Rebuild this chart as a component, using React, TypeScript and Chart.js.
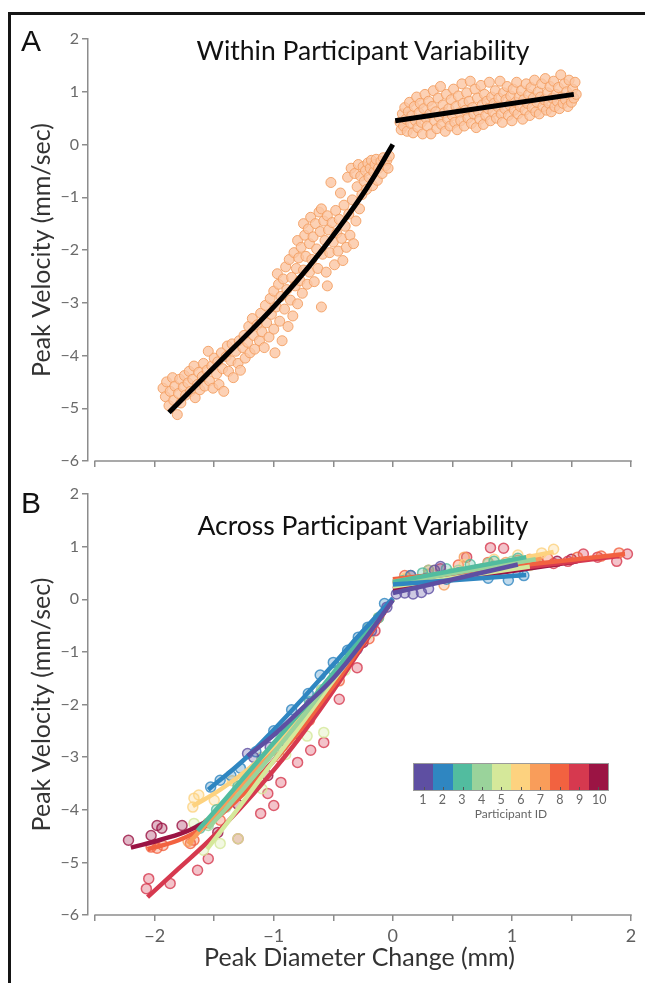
import React, { useEffect, useRef } from 'react';
import { Chart, registerables } from 'chart.js';
Chart.register(...registerables);

// ---------- axes ----------
const X_TICKS = [-2.5, -2, -1.5, -1, -0.5, 0, 0.5, 1, 1.5, 2];
const X_LABELED = [-2, -1, 0, 1, 2];
const Y_TICKS = [-6, -5, -4, -3, -2, -1, 0, 1, 2];

// ---------- panel A (within participant) ----------
const A_POINTS_NEG = [
  [-1.93,-4.62],[-1.91,-4.78],[-1.9,-4.5],[-1.88,-4.95],[-1.87,-4.68],[-1.85,-4.42],[-1.84,-4.85],[-1.83,-4.58],[-1.81,-5.12],[-1.8,-4.72],
  [-1.79,-4.45],[-1.78,-4.9],[-1.76,-4.6],[-1.75,-4.38],[-1.74,-4.75],[-1.72,-4.52],[-1.71,-4.3],[-1.7,-4.68],[-1.68,-4.45],[-1.67,-4.2],
  [-1.66,-4.8],[-1.64,-4.55],[-1.63,-4.32],[-1.62,-4.65],[-1.6,-4.4],[-1.59,-4.15],[-1.58,-4.58],[-1.56,-4.28],[-1.55,-3.92],[-1.54,-4.48],
  [-1.52,-4.2],[-1.51,-4.62],[-1.5,-4.05],[-1.48,-4.35],[-1.47,-4.12],[-1.46,-4.55],[-1.44,-3.95],[-1.43,-4.25],[-1.42,-4.68],[-1.4,-4.02],
  [-1.39,-3.82],[-1.38,-4.3],[-1.36,-4.1],[-1.35,-3.78],[-1.34,-4.42],[-1.32,-3.92],[-1.3,-4.15],[-1.29,-3.72],[-1.28,-4.28],[-1.26,-3.85],
  [-1.25,-3.62],[-1.24,-4.05],[-1.22,-3.75],[-1.21,-3.45],[-1.2,-3.95],[-1.18,-3.3],[-1.17,-3.62],[-1.16,-3.88],[-1.14,-3.42],[-1.12,-3.72],
  [-1.11,-3.2],[-1.1,-3.55],[-1.08,-3.85],[-1.07,-3.05],[-1.06,-3.38],[-1.04,-3.65],[-1.03,-2.92],[-1.02,-3.22],[-1.0,-3.5],[-1.0,-2.78],
  [-0.99,-3.95],[-0.98,-3.08],[-0.97,-2.45],[-0.96,-2.65],[-0.95,-3.35],[-0.94,-2.88],[-0.93,-3.72],[-0.92,-2.55],[-0.91,-3.12],[-0.9,-2.32],
  [-0.89,-2.75],[-0.88,-3.45],[-0.87,-2.18],[-0.86,-2.95],[-0.85,-2.52],[-0.84,-3.25],[-0.83,-2.05],[-0.82,-2.68],[-0.81,-2.35],[-0.8,-1.82],
  [-0.8,-3.02],[-0.79,-2.15],[-0.78,-2.58],[-0.77,-1.95],[-0.76,-2.82],[-0.75,-1.5],[-0.75,-2.38],[-0.74,-1.72],[-0.73,-2.12],[-0.72,-2.65],
  [-0.71,-1.6],[-0.7,-1.88],[-0.7,-2.42],[-0.69,-1.38],[-0.68,-2.18],[-0.67,-1.75],[-0.66,-2.6],[-0.65,-1.5],[-0.64,-1.98],[-0.63,-2.35],
  [-0.62,-1.28],[-0.61,-1.65],[-0.6,-1.22],[-0.6,-3.08],[-0.59,-2.08],[-0.58,-1.45],[-0.57,-1.82],[-0.56,-2.42],[-0.55,-1.35],[-0.55,-2.68],
  [-0.54,-1.62],[-0.53,-2.05],[-0.52,-0.72],[-0.51,-1.48],[-0.5,-1.85],[-0.49,-2.28],[-0.48,-1.25],[-0.47,-1.68],[-0.46,-2.02],[-0.45,-1.42],
  [-0.44,-0.92],[-0.43,-1.78],[-0.42,-2.2],[-0.41,-1.15],[-0.4,-1.55],[-0.39,-1.95],[-0.38,-0.62],[-0.37,-1.32],[-0.36,-1.72],[-0.35,-0.45],
  [-0.34,-1.05],[-0.33,-1.88],[-0.32,-0.55],[-0.31,-1.45],[-0.3,-0.8],[-0.29,-0.38],[-0.28,-1.22],[-0.27,-0.6],[-0.26,-0.95],[-0.25,-0.42],
  [-0.24,-0.7],[-0.23,-0.5],[-0.22,-0.85],[-0.21,-0.35],[-0.2,-0.62],[-0.19,-0.45],[-0.18,-0.3],[-0.17,-0.78],[-0.16,-0.52],[-0.15,-0.38],
  [-0.14,-0.28],[-0.13,-0.68],[-0.12,-0.45],[-0.1,-0.32],[-0.09,-0.55],[-0.08,-0.25],[-0.06,-0.4],[-0.05,-0.3],[-0.04,-0.45],[-0.03,-0.22]
];
const A_POINTS_POS = [
  [0.06,0.42],[0.07,0.28],[0.08,0.58],[0.09,0.35],[0.1,0.7],[0.11,0.48],[0.12,0.25],[0.13,0.62],[0.14,0.8],[0.15,0.4],
  [0.16,0.55],[0.17,0.22],[0.18,0.72],[0.19,0.45],[0.2,0.9],[0.21,0.32],[0.22,0.6],[0.23,0.78],[0.24,0.42],[0.25,0.2],
  [0.26,0.68],[0.27,0.95],[0.28,0.5],[0.29,0.35],[0.3,0.82],[0.31,0.58],[0.32,0.2],[0.33,0.72],[0.34,1.02],[0.35,0.45],
  [0.36,0.62],[0.37,0.3],[0.38,0.88],[0.39,0.52],[0.4,1.1],[0.41,0.38],[0.42,0.75],[0.43,0.6],[0.44,0.25],[0.45,0.95],
  [0.46,0.48],[0.47,0.68],[0.48,0.35],[0.49,0.85],[0.5,0.55],[0.51,1.05],[0.52,0.42],[0.53,0.72],[0.54,0.28],[0.55,0.92],
  [0.56,0.6],[0.57,0.45],[0.58,1.15],[0.59,0.78],[0.6,0.35],[0.61,0.65],[0.62,0.98],[0.63,0.5],[0.64,0.82],[0.65,1.2],
  [0.66,0.4],[0.67,0.7],[0.68,0.58],[0.69,1.05],[0.7,0.32],[0.71,0.88],[0.72,0.62],[0.73,0.48],[0.74,1.12],[0.75,0.75],
  [0.76,0.38],[0.77,0.95],[0.78,0.55],[0.79,0.82],[0.8,0.68],[0.81,1.18],[0.82,0.45],[0.83,0.9],[0.84,0.62],[0.85,0.78],
  [0.86,1.02],[0.87,0.5],[0.88,0.72],[0.89,0.88],[0.9,1.2],[0.91,0.58],[0.92,0.42],[0.93,0.98],[0.94,0.68],[0.95,0.85],
  [0.96,1.1],[0.97,0.55],[0.98,0.75],[0.99,0.92],[1.0,0.45],[1.01,1.05],[1.02,0.65],[1.03,0.8],[1.04,1.18],[1.05,0.58],
  [1.06,0.9],[1.07,0.72],[1.08,1.02],[1.09,0.48],[1.1,0.85],[1.11,0.65],[1.12,1.15],[1.13,0.78],[1.14,0.95],[1.15,0.55],
  [1.16,1.08],[1.17,0.7],[1.18,0.88],[1.19,1.22],[1.2,0.62],[1.21,0.8],[1.22,1.0],[1.23,0.58],[1.24,0.9],[1.25,1.15],
  [1.26,0.72],[1.27,0.85],[1.28,1.25],[1.29,0.65],[1.3,0.98],[1.31,0.78],[1.32,1.1],[1.33,0.62],[1.34,0.88],[1.35,1.2],
  [1.36,0.72],[1.37,0.95],[1.38,0.82],[1.39,1.08],[1.4,0.68],[1.41,1.32],[1.42,0.9],[1.43,0.78],[1.44,1.15],[1.45,0.85],
  [1.46,1.0],[1.47,0.72],[1.48,1.22],[1.49,0.92],[1.5,0.8],[1.51,1.05],[1.52,0.88],[1.53,1.18],[1.54,0.95]
];
const A_FIT_NEG = [[-1.88,-5.08],[-1.65,-4.56],[-1.42,-4.04],[-1.18,-3.5],[-0.94,-2.93],[-0.7,-2.3],[-0.46,-1.6],[-0.22,-0.83],[0,0]];
const A_FIT_POS = [[0.02,0.45],[1.52,0.95]];

// ---------- panel B (across participants) ----------
const PARTICIPANT_IDS = ['1','2','3','4','5','6','7','8','9','10'];
const PARTICIPANT_COLORS = ['#5e4fa2','#2f86c1','#52bc9f','#9ad39b','#d5e89a','#fdd27f','#f99d5a','#f26240','#d6394f','#9b1444'];

const P1_POINTS = [[-1.22,-2.93],[-1.17,-3.0],[-1.03,-2.81],[-0.92,-2.68],[-0.82,-2.45],[-0.69,-1.98],[-0.63,-1.88],[-0.5,-1.6],[-0.42,-1.3],[-0.3,-0.95],[-0.18,-0.6],[-0.05,-0.15],
  [0.03,0.1],[0.1,0.12],[0.17,0.1],[0.24,0.13],[0.3,0.2],[0.35,0.55],[0.4,0.62],[0.55,0.5],[0.7,0.55],[0.85,0.62],[1.0,0.66]];
const P2_POINTS = [[-1.53,-3.57],[-1.45,-3.44],[-1.36,-3.35],[-1.28,-3.21],[-1.15,-2.9],[-1.0,-2.5],[-0.85,-2.1],[-0.71,-1.79],[-0.61,-1.44],[-0.5,-1.2],[-0.38,-0.97],[-0.29,-0.72],[-0.21,-0.53],[-0.07,-0.08],
  [0.05,0.3],[0.15,0.45],[0.28,0.4],[0.45,0.38],[0.63,0.46],[0.8,0.4],[0.97,0.36],[1.1,0.45],[1.05,0.52]];
const P3_POINTS = [[-1.62,-4.35],[-1.48,-4.0],[-1.3,-3.55],[-1.1,-3.05],[-0.9,-2.45],[-0.7,-1.95],[-0.5,-1.35],[-0.3,-0.82],[-0.12,-0.35],
  [0.08,0.35],[0.25,0.5],[0.45,0.58],[0.65,0.66],[0.85,0.72],[1.05,0.78]];
const P4_POINTS = [[-1.55,-4.3],[-1.4,-3.95],[-1.2,-3.4],[-1.0,-2.88],[-0.8,-2.3],[-0.6,-1.72],[-0.4,-1.1],[-0.2,-0.55],
  [0.1,0.3],[0.3,0.55],[0.55,0.55],[0.8,0.68],[1.0,0.72],[1.2,0.75]];
const P5_POINTS = [[-1.67,-4.26],[-1.59,-4.77],[-1.45,-4.64],[-1.3,-4.55],[-1.1,-3.6],[-0.9,-2.95],[-0.72,-2.6],[-0.58,-2.53],[-0.4,-1.35],[-0.2,-0.65],
  [0.1,0.32],[0.3,0.42],[0.5,0.5],[0.75,0.54],[0.95,0.6],[1.15,0.64]];
const P6_POINTS = [[-1.68,-3.95],[-1.67,-3.78],[-1.63,-3.72],[-1.5,-3.82],[-1.35,-3.45],[-1.1,-3.0],[-0.85,-2.4],[-0.6,-1.75],[-0.35,-1.05],[-0.12,-0.35],
  [0.1,0.4],[0.35,0.55],[0.6,0.66],[0.85,0.76],[1.05,0.84],[1.25,0.88],[1.35,0.95]];
const P7_POINTS = [[-1.72,-4.6],[-1.55,-4.25],[-1.35,-3.8],[-1.15,-3.45],[-0.95,-2.85],[-0.75,-2.35],[-0.55,-1.7],[-0.35,-1.05],
  [0.12,0.4],[0.3,0.48],[0.43,0.27],[0.6,0.8],[0.75,0.58],[0.95,0.7],[1.15,0.76]];
const P8_POINTS = [[-2.03,-4.71],[-1.98,-4.73],[-1.93,-4.68],[-1.7,-4.64],[-1.67,-4.58],[-1.45,-4.2],[-1.2,-3.6],[-0.95,-3.0],[-0.7,-2.3],[-0.45,-1.55],[-0.2,-0.75],
  [0.1,0.45],[0.3,0.55],[0.55,0.65],[0.8,0.7],[1.05,0.74],[1.3,0.78],[1.55,0.8],[1.75,0.82],[1.9,0.88]];
const P9_POINTS = [[-2.05,-5.31],[-2.07,-5.5],[-1.87,-5.4],[-1.64,-5.15],[-1.55,-4.93],[-1.3,-4.55],[-1.11,-4.07],[-1.0,-3.92],[-1.05,-3.69],[-0.94,-3.48],[-0.8,-3.1],[-0.69,-2.87],[-0.58,-2.72],[-0.45,-1.9],[-0.3,-1.3],[-0.15,-0.6],
  [0.15,0.45],[0.4,0.58],[0.62,0.8],[0.82,0.98],[0.93,0.97],[1.22,0.7],[1.35,0.68],[1.47,0.72],[1.6,0.86],[1.72,0.8],[1.88,0.72],[1.97,0.86]];
const P10_POINTS = [[-2.22,-4.58],[-2.03,-4.49],[-1.98,-4.3],[-1.94,-4.35],[-1.77,-4.3],[-1.47,-4.43],[-1.3,-3.9],[-1.05,-3.35],[-0.8,-2.55],[-0.5,-1.6],[-0.25,-0.82],
  [0.2,0.35],[0.5,0.48],[0.8,0.58],[1.05,0.64],[1.2,0.68],[1.38,0.72],[1.5,0.76]];

const P1_FIT_NEG = [[-1.22,-2.98],[-1.0,-2.58],[-0.75,-2.05],[-0.5,-1.5],[-0.25,-0.8],[0,-0.02]];
const P2_FIT_NEG = [[-1.55,-3.62],[-1.25,-3.05],[-1.0,-2.48],[-0.75,-1.87],[-0.5,-1.24],[-0.25,-0.6],[0,0.02]];
const P3_FIT_NEG = [[-1.64,-4.4],[-1.4,-3.78],[-1.15,-3.12],[-0.9,-2.47],[-0.6,-1.68],[-0.3,-0.84],[0,0]];
const P4_FIT_NEG = [[-1.55,-4.35],[-1.3,-3.72],[-1.05,-3.05],[-0.8,-2.36],[-0.55,-1.62],[-0.28,-0.83],[0,0]];
const P5_FIT_NEG = [[-1.56,-4.75],[-1.3,-3.98],[-1.05,-3.22],[-0.8,-2.47],[-0.55,-1.7],[-0.28,-0.87],[0,0]];
const P6_FIT_NEG = [[-1.68,-3.93],[-1.45,-3.62],[-1.2,-3.2],[-0.95,-2.68],[-0.7,-2.05],[-0.45,-1.35],[-0.2,-0.6],[0,0]];
const P7_FIT_NEG = [[-1.72,-4.65],[-1.45,-3.98],[-1.2,-3.35],[-0.95,-2.7],[-0.65,-1.9],[-0.35,-1.05],[0,0]];
const P8_FIT_NEG = [[-2.06,-4.75],[-1.8,-4.58],[-1.55,-4.28],[-1.3,-3.8],[-1.05,-3.2],[-0.8,-2.55],[-0.55,-1.8],[-0.3,-1.0],[0,0]];
const P9_FIT_NEG = [[-2.06,-5.66],[-1.8,-5.12],[-1.55,-4.6],[-1.3,-4.02],[-1.05,-3.38],[-0.8,-2.68],[-0.55,-1.9],[-0.3,-1.05],[0,0]];
const P10_FIT_NEG = [[-2.2,-4.72],[-1.95,-4.57],[-1.7,-4.38],[-1.45,-4.05],[-1.2,-3.55],[-0.9,-2.8],[-0.6,-1.95],[-0.3,-1.0],[0,0]];

const P1_FIT_POS = [[0,0.12],[1.05,0.66]];
const P2_FIT_POS = [[0,0.28],[1.12,0.46]];
const P3_FIT_POS = [[0,0.33],[1.12,0.8]];
const P4_FIT_POS = [[0,0.3],[1.2,0.76]];
const P5_FIT_POS = [[0,0.24],[1.15,0.62]];
const P6_FIT_POS = [[0,0.3],[1.35,0.9]];
const P7_FIT_POS = [[0,0.34],[1.25,0.78]];
const P8_FIT_POS = [[0,0.38],[1.95,0.86]];
const P9_FIT_POS = [[0,0.3],[1.9,0.82]];
const P10_FIT_POS = [[0,0.2],[1.55,0.72]];

const B_POINTS = [P1_POINTS,P2_POINTS,P3_POINTS,P4_POINTS,P5_POINTS,P6_POINTS,P7_POINTS,P8_POINTS,P9_POINTS,P10_POINTS];
const B_FIT_NEG = [P1_FIT_NEG,P2_FIT_NEG,P3_FIT_NEG,P4_FIT_NEG,P5_FIT_NEG,P6_FIT_NEG,P7_FIT_NEG,P8_FIT_NEG,P9_FIT_NEG,P10_FIT_NEG];
const B_FIT_POS = [P1_FIT_POS,P2_FIT_POS,P3_FIT_POS,P4_FIT_POS,P5_FIT_POS,P6_FIT_POS,P7_FIT_POS,P8_FIT_POS,P9_FIT_POS,P10_FIT_POS];

// ---------- styling ----------
const FONT = 'Lato, "Open Sans", sans-serif';
const AXIS_COLOR = '#8c8c8c';
const TICK_COLOR = '#5f5f5f';

const toXY = (arr: number[][]) => arr.map(([x, y]) => ({ x, y }));
const fmt = (v: number) => (v < 0 ? '\u2212' + Math.abs(v) : String(v));
const rgba = (hex: string, a: number) => {
  const n = parseInt(hex.slice(1), 16);
  return `rgba(${(n >> 16) & 255},${(n >> 8) & 255},${n & 255},${a})`;
};

const xAxisLinePlugin = {
  id: 'xAxisLine',
  afterDraw(chart: any) {
    const xs = chart.scales.x;
    const y = chart.chartArea.bottom;
    const ctx = chart.ctx;
    ctx.save();
    ctx.strokeStyle = AXIS_COLOR;
    ctx.lineWidth = 1.5;
    ctx.beginPath();
    ctx.moveTo(xs.getPixelForValue(X_TICKS[0]) - 0.75, y);
    ctx.lineTo(xs.getPixelForValue(X_TICKS[X_TICKS.length - 1]) + 0.75, y);
    ctx.stroke();
    ctx.restore();
  },
};

function buildOptions(showXLabels: boolean, xAxisHeight: number, padTop: number) {
  return {
    responsive: false,
    animation: false,
    devicePixelRatio: 1,
    layout: { padding: { top: padTop, left: 0, right: 14, bottom: 0 } },
    plugins: { legend: { display: false }, tooltip: { enabled: false }, title: { display: false } },
    elements: { line: { tension: 0.4 } },
    scales: {
      x: {
        type: 'linear',
        min: -2.56,
        max: 2,
        afterBuildTicks: (s: any) => { s.ticks = X_TICKS.map((v) => ({ value: v })); },
        afterFit: (s: any) => { s.height = xAxisHeight; },
        grid: { drawOnChartArea: false, drawTicks: true, tickLength: 6, color: AXIS_COLOR, lineWidth: 1.5 },
        border: { display: false },
        ticks: {
          autoSkip: false,
          maxRotation: 0,
          padding: 4,
          color: TICK_COLOR,
          font: { size: 18, family: FONT },
          callback: (v: number) => (showXLabels && X_LABELED.includes(v) ? fmt(v) : ''),
        },
        title: {
          display: showXLabels,
          text: 'Peak Diameter Change (mm)',
          color: '#333',
          font: { size: 25, family: FONT },
          padding: { top: 0, bottom: 10 },
        },
      },
      y: {
        type: 'linear',
        min: -6,
        max: 2,
        afterBuildTicks: (s: any) => { s.ticks = Y_TICKS.map((v) => ({ value: v })); },
        afterFit: (s: any) => { s.width = 88; },
        grid: { drawOnChartArea: false, drawTicks: true, tickLength: 6, color: AXIS_COLOR, lineWidth: 1.5 },
        border: { display: true, color: AXIS_COLOR, width: 1.5 },
        ticks: {
          padding: 3,
          color: '#6a6a6a',
          font: { size: 16, family: FONT },
          callback: (v: number) => fmt(v),
        },
        title: {
          display: true,
          text: 'Peak Velocity (mm/sec)',
          color: '#333',
          font: { size: 25, family: FONT },
          padding: { top: 27, bottom: 0 },
        },
      },
    },
  };
}

function PanelA() {
  const ref = useRef<HTMLCanvasElement>(null);
  useEffect(() => {
    const chart = new Chart(ref.current!, {
      type: 'scatter',
      data: {
        datasets: [
          { data: toXY(A_FIT_NEG), showLine: true, borderColor: '#000', borderWidth: 5, pointRadius: 0, tension: 0.4, order: 1, clip: false },
          { data: toXY(A_FIT_POS), showLine: true, borderColor: '#000', borderWidth: 5, pointRadius: 0, order: 2, clip: false },
          { data: toXY(A_POINTS_NEG), pointRadius: 5, pointBorderWidth: 1, backgroundColor: 'rgba(251,198,163,0.8)', borderColor: 'rgba(243,158,98,0.9)', order: 10, clip: false },
          { data: toXY(A_POINTS_POS), pointRadius: 5, pointBorderWidth: 1, backgroundColor: 'rgba(251,198,163,0.8)', borderColor: 'rgba(243,158,98,0.9)', order: 11, clip: false },
        ],
      } as any,
      options: buildOptions(false, 19, 39) as any,
      plugins: [xAxisLinePlugin],
    });
    return () => chart.destroy();
  }, []);
  return <canvas ref={ref} width={645} height={480} style={{ position: 'absolute', left: 0, top: 0 }} />;
}

function PanelB() {
  const ref = useRef<HTMLCanvasElement>(null);
  useEffect(() => {
    const datasets: any[] = [];
    B_POINTS.forEach((pts, i) => {
      const c = PARTICIPANT_COLORS[i];
      datasets.push({ data: toXY(pts), pointRadius: 5, pointBorderWidth: 1.5, backgroundColor: rgba(c, 0.3), borderColor: rgba(c, 0.8), order: 100 + i, clip: false });
    });
    B_FIT_NEG.forEach((pts, i) => {
      const c = PARTICIPANT_COLORS[i];
      datasets.push({ data: toXY(pts), showLine: true, borderColor: c, borderWidth: 4.5, pointRadius: 0, tension: 0.4, order: i + 1, clip: false });
    });
    B_FIT_POS.forEach((pts, i) => {
      const c = PARTICIPANT_COLORS[i];
      datasets.push({ data: toXY(pts), showLine: true, borderColor: c, borderWidth: 4.5, pointRadius: 0, order: i + 1, clip: false });
    });
    const chart = new Chart(ref.current!, {
      type: 'scatter',
      data: { datasets },
      options: buildOptions(true, 68, 14) as any,
      plugins: [xAxisLinePlugin],
    });
    return () => chart.destroy();
  }, []);
  return <canvas ref={ref} width={645} height={503} style={{ position: 'absolute', left: 0, top: 480 }} />;
}

function ColorBar() {
  return (
    <div style={{ position: 'absolute', left: 413, top: 763, width: 196 }}>
      <div style={{ display: 'flex', height: 28, border: '1px solid #9a9a9a', boxSizing: 'border-box' }}>
        {PARTICIPANT_COLORS.map((c, i) => (
          <div key={i} style={{ flex: 1, background: c, position: 'relative' }}>
            <div style={{ position: 'absolute', left: '50%', bottom: 0, width: 1, height: 3, background: '#555' }} />
          </div>
        ))}
      </div>
      <div style={{ display: 'flex', fontFamily: FONT, fontSize: 12.5, color: '#666', lineHeight: '14px', marginTop: 2 }}>
        {PARTICIPANT_IDS.map((t) => (
          <div key={t} style={{ flex: 1, textAlign: 'center' }}>{t}</div>
        ))}
      </div>
      <div style={{ textAlign: 'center', fontFamily: FONT, fontSize: 12, color: '#666', lineHeight: '13px' }}>Participant ID</div>
    </div>
  );
}

export default function App() {
  const textBase: React.CSSProperties = { position: 'absolute', fontFamily: FONT, color: '#111', whiteSpace: 'nowrap', lineHeight: 1 };
  return (
    <div style={{ position: 'absolute', left: 0, top: 0, width: 645, height: 983, overflow: 'hidden', background: '#fff' }}>
      <div style={{ position: 'absolute', left: 8, top: 12, width: 720, height: 1050, border: '3px solid #151515' }} />
      <PanelA />
      <PanelB />
      <div style={{ ...textBase, left: 21, top: 26, fontSize: 30, fontFamily: '"Liberation Sans", Arial, sans-serif' }}>A</div>
      <div style={{ ...textBase, left: 21, top: 488, fontSize: 30, fontFamily: '"Liberation Sans", Arial, sans-serif' }}>B</div>
      <div style={{ ...textBase, left: 0, width: 726, textAlign: 'center', top: 37, fontSize: 26.5 }}>Within Participant Variability</div>
      <div style={{ ...textBase, left: 0, width: 726, textAlign: 'center', top: 512, fontSize: 26.5 }}>Across Participant Variability</div>
      <ColorBar />
    </div>
  );
}
